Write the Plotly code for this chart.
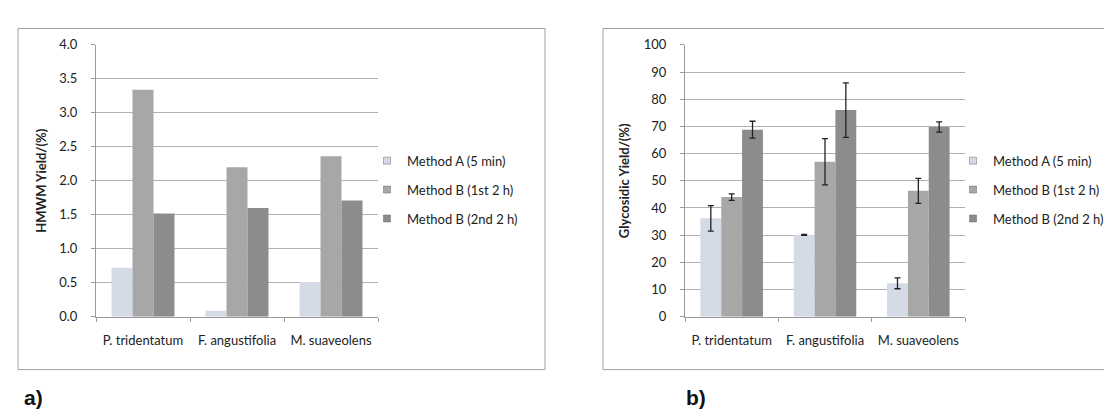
import plotly.graph_objects as go

categories = ["P. tridentatum", "F. angustifolia", "M. suaveolens"]
series_names = ["Method A (5 min)", "Method B (1st 2 h)", "Method B (2nd 2 h)"]

# Panel a: HMWM yield (%)
hmwm_a = [0.72, 0.09, 0.51]
hmwm_b1 = [3.34, 2.20, 2.36]
hmwm_b2 = [1.52, 1.60, 1.71]

# Panel b: glycosidic yield (%) with error bars
gly_a = [36.2, 30.1, 12.3]
gly_b1 = [44.0, 57.0, 46.3]
gly_b2 = [68.8, 76.0, 69.8]
gly_a_err = [4.7, 0.2, 2.0]
gly_b1_err = [1.2, 8.5, 4.6]
gly_b2_err = [3.1, 10.0, 1.9]

colors = ["#d4dbe6", "#a7a7a7", "#8c8c8c"]

W, H = 1112, 409
def px_x(v):
    return v / W
def px_y(v):
    return 1 - v / H

fig = go.Figure()

for i, (vals, name) in enumerate(zip([hmwm_a, hmwm_b1, hmwm_b2], series_names)):
    fig.add_trace(go.Bar(
        x=categories, y=vals, name=name, marker_color=colors[i],
        marker_line_width=0, xaxis="x", yaxis="y", showlegend=False,
    ))
    fig.add_trace(go.Scatter(
        x=[None], y=[None], mode="markers", name=name,
        marker=dict(symbol="square", size=7, color=colors[i],
                    line=dict(width=0.5, color="#666")),
        xaxis="x", yaxis="y", legend="legend", legendgroup="a" + str(i),
    ))

for i, (vals, errs, name) in enumerate(zip([gly_a, gly_b1, gly_b2],
                                            [gly_a_err, gly_b1_err, gly_b2_err],
                                            series_names)):
    fig.add_trace(go.Bar(
        x=categories, y=vals, name=name, marker_color=colors[i],
        marker_line_width=0, xaxis="x2", yaxis="y2", showlegend=False,
        error_y=dict(type="data", array=errs, color="#222222", thickness=1.3, width=3),
    ))
    fig.add_trace(go.Scatter(
        x=[None], y=[None], mode="markers", name=name,
        marker=dict(symbol="square", size=7, color=colors[i],
                    line=dict(width=0.5, color="#666")),
        xaxis="x2", yaxis="y2", legend="legend2", legendgroup="b" + str(i),
    ))

font_family = "Lato, 'Open Sans', Arial, sans-serif"
tickfont = dict(family=font_family, size=13, color="#222222")

axis_common_x = dict(
    showline=True, linecolor="#9a9a9a", linewidth=1,
    ticks="outside", tickson="boundaries", ticklen=4, tickcolor="#9a9a9a",
    tickfont=tickfont, showgrid=False, ticklabelstandoff=12,
)
axis_common_y = dict(
    showline=True, linecolor="#9a9a9a", linewidth=1,
    ticks="outside", ticklen=4, tickcolor="#9a9a9a",
    showgrid=True, gridcolor="#b0b0b0", gridwidth=1,
    tickfont=tickfont, zeroline=False, ticklabelstandoff=11,
)

legend_common = dict(
    font=dict(family=font_family, size=13, color="#222222"),
    bgcolor="rgba(0,0,0,0)", tracegroupgap=9, itemwidth=30,
    xanchor="left", yanchor="top",
)

fig.update_layout(
    width=W, height=H,
    margin=dict(l=0, r=0, t=0, b=0),
    paper_bgcolor="white", plot_bgcolor="white",
    barmode="group", bargap=0.33, bargroupgap=0,
    xaxis=dict(domain=[px_x(88), px_x(370)], anchor="y", **axis_common_x),
    yaxis=dict(domain=[px_y(313), px_y(30)], anchor="x", range=[0, 4.0],
               dtick=0.5, tickformat=".1f",
               title=dict(text="<b>HMWM Yield/(%)</b>", font=dict(family=font_family, size=13, color="#222"), standoff=9),
               **axis_common_y),
    xaxis2=dict(domain=[px_x(677), px_x(957)], anchor="y2", **axis_common_x),
    yaxis2=dict(domain=[px_y(313), px_y(30)], anchor="x2", range=[0, 100],
                dtick=10,
                title=dict(text="<b>Glycosidic Yield/(%)</b>", font=dict(family=font_family, size=13, color="#222"), standoff=11),
                **axis_common_y),
    legend=dict(x=px_x(359), y=px_y(135), **legend_common),
    legend2=dict(x=px_x(945), y=px_y(135), **legend_common),
    showlegend=True,
)

# Outer chart frames
fig.add_shape(type="rect", xref="paper", yref="paper",
              x0=px_x(10), x1=px_x(537), y0=px_y(368), y1=px_y(13),
              line=dict(color="#a0a0a0", width=1))
fig.add_shape(type="rect", xref="paper", yref="paper",
              x0=px_x(595), x1=px_x(1111.5), y0=px_y(368), y1=px_y(13),
              line=dict(color="#a0a0a0", width=1))

# Panel labels
fig.add_annotation(text="<b>a)</b>", xref="paper", yref="paper",
                   x=px_x(14), y=px_y(397), xanchor="left", yanchor="middle",
                   showarrow=False, font=dict(family="Liberation Sans, Arial", size=21, color="#111"))
fig.add_annotation(text="<b>b)</b>", xref="paper", yref="paper",
                   x=px_x(676), y=px_y(397), xanchor="left", yanchor="middle",
                   showarrow=False, font=dict(family="Liberation Sans, Arial", size=21, color="#111"))

fig.write_html("out.html")
